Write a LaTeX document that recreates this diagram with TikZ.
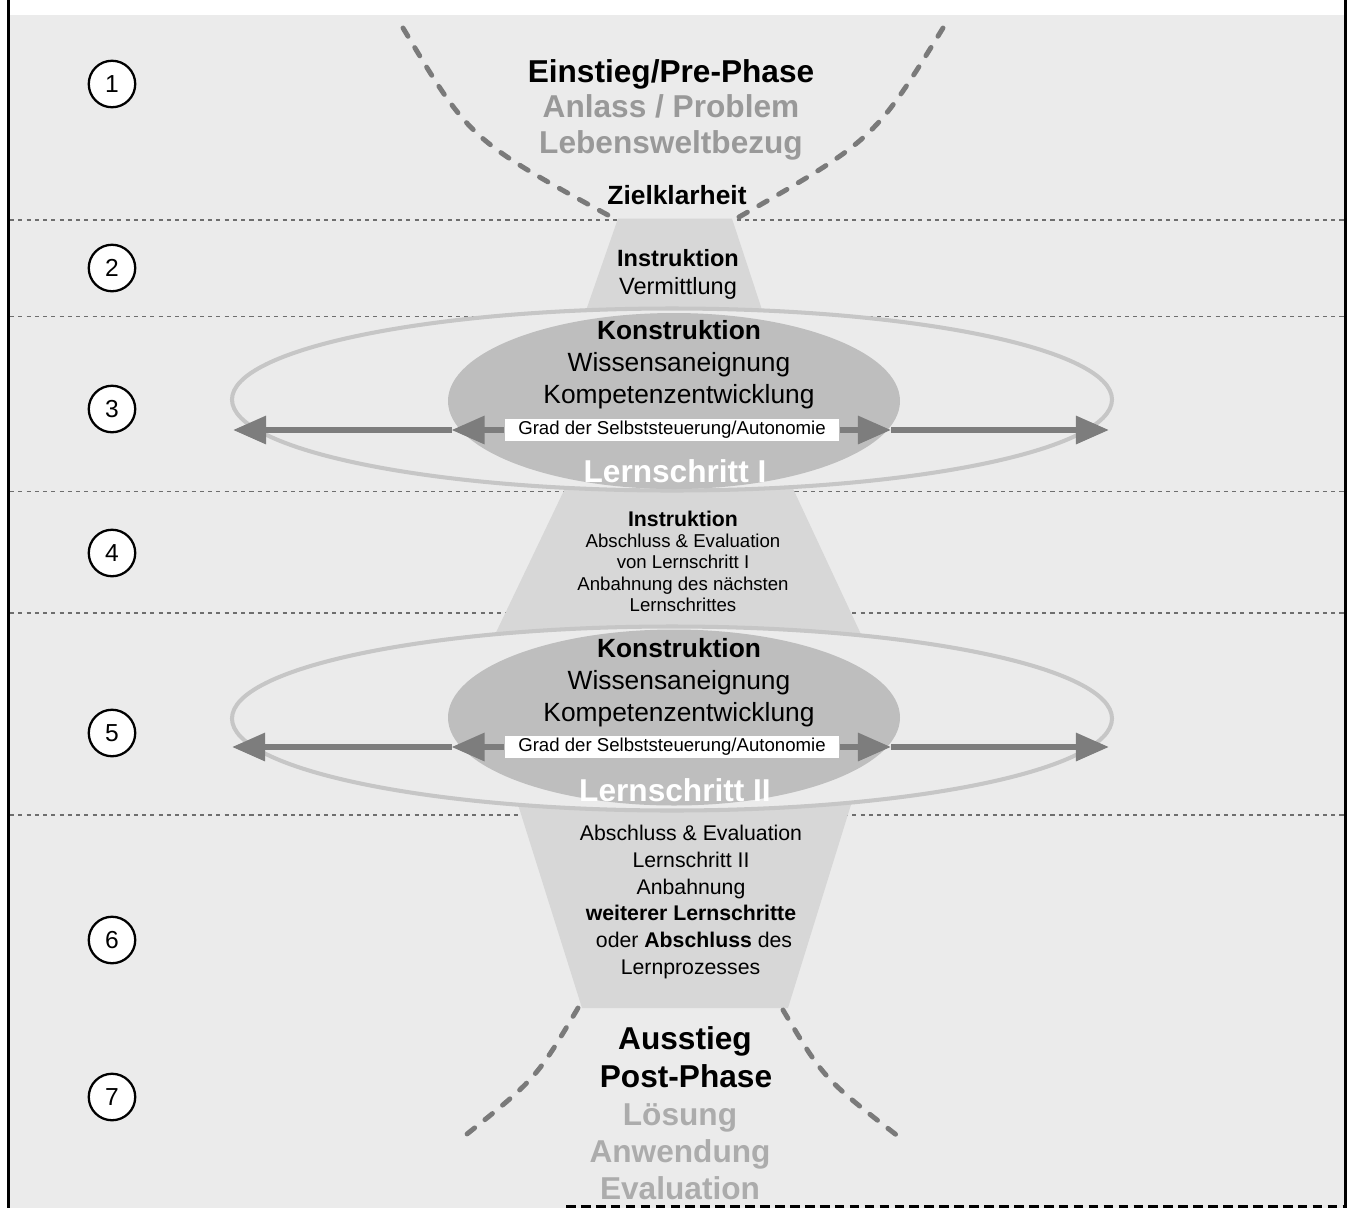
\documentclass[tikz,border=0pt]{standalone}
\usepackage{fontspec}
\setmainfont{Liberation Sans}
\usetikzlibrary{arrows.meta}

\definecolor{phasebg}{RGB}{235,235,235}
\definecolor{funnelfill}{RGB}{215,215,215}
\definecolor{coregray}{RGB}{190,190,190}
\definecolor{ringgray}{RGB}{198,198,198}
\definecolor{arrowgray}{RGB}{125,125,125}
\definecolor{funnelgray}{RGB}{122,122,122}
\definecolor{dotgray}{RGB}{110,110,110}
\definecolor{softtext}{RGB}{153,153,153}
\definecolor{paletext}{RGB}{172,172,172}

\begin{document}
\begin{tikzpicture}[x=0.02cm,y=-0.02cm,
    dotline/.style={draw=dotgray,line width=1.1pt,dash pattern=on 2.3pt off 2.4pt},
    funnel/.style={draw=funnelgray,line width=2.8pt,line cap=round,dash pattern=on 5.5pt off 7.5pt},
    ring/.style={draw=ringgray,line width=2.3pt,fill=phasebg},
    core/.style={fill=coregray},
    autarrow/.style={draw=arrowgray,line width=3.4pt,-{Triangle[length=18.8pt,width=15.4pt]}},
    gradbox/.style={fill=white,inner sep=0pt,minimum width=6.7cm,minimum height=0.44cm,font=\fontsize{10.6}{12}\selectfont},
    numcirc/.style={circle,draw,fill=white,line width=1.3pt,minimum size=0.93cm,inner sep=0pt,font=\fontsize{14}{16}\selectfont},
    txt/.style={anchor=base,inner sep=0pt},
    headbig/.style={txt,font=\fontsize{18}{20}\selectfont\bfseries},
    headmid/.style={txt,font=\fontsize{15}{17}\selectfont\bfseries},
    plainmid/.style={txt,font=\fontsize{15}{17}\selectfont},
    headsmall/.style={txt,font=\fontsize{13.4}{15}\selectfont\bfseries},
    plainsmall/.style={txt,font=\fontsize{13.4}{15}\selectfont},
    boldsix/.style={txt,font=\fontsize{12.1}{14}\selectfont\bfseries},
    plainsix/.style={txt,font=\fontsize{12.1}{14}\selectfont},
    plaintiny/.style={txt,font=\fontsize{10.6}{12}\selectfont}
  ]
  \useasboundingbox (0,0) rectangle (1350,1208);
  \fill[white] (0,0) rectangle (1350,1208);
  \fill[phasebg] (9,15) rectangle (1345,1208);
  \draw[line width=1.8pt] (8.6,0) -- (8.6,1208);
  \draw[line width=2pt] (1345.5,0) -- (1345.5,1208);
  \draw[line width=1.7pt,dash pattern=on 5.5pt off 3pt] (566,1206) -- (1344,1206);

  % section lines
  \draw[dotline] (10,220) -- (1344,220);
  \draw[dotline] (10,316.5) -- (1344,316.5);
  \draw[dotline] (10,491.5) -- (1344,491.5);
  \draw[dotline] (10,613) -- (1344,613);
  \draw[dotline] (10,815) -- (1344,815);

  % funnel body
  \fill[funnelfill] (618,218.5) -- (732,218.5) -- (766,322) -- (582,322) -- cycle;
  \fill[funnelfill] (569,480) -- (789,480) -- (866,645) -- (490,645) -- cycle;
  \fill[funnelfill] (515,795) -- (854,795) -- (788,1008) -- (582,1008) -- cycle;

  % open ends
  \coordinate (topl0) at (403,28);
  \coordinate (topl1) at (617,220);
  \coordinate (topr0) at (943,28);
  \coordinate (topr1) at (732,221);
  \draw[funnel] (topl0) .. controls (470,140) .. (topl1);
  \draw[funnel] (topr0) .. controls (874,140) .. (topr1);
  \coordinate (botl0) at (578,1008);
  \coordinate (botl1) at (457,1142);
  \coordinate (botr0) at (783,1010);
  \coordinate (botr1) at (903,1140);
  \draw[funnel] (botl0) .. controls (536,1079) .. (botl1);
  \draw[funnel] (botr0) .. controls (824,1079) .. (botr1);

  % learning steps
  \draw[ring] (672,399.5) ellipse [x radius=440, y radius=91];
  \fill[core] (674,401) ellipse [x radius=226, y radius=88];
  \draw[ring] (672,718.5) ellipse [x radius=440, y radius=92];
  \fill[core] (674,717.5) ellipse [x radius=226, y radius=88];

  \node[gradbox] (grad1) at (672,430) {Grad der Selbststeuerung/Autonomie};
  \coordinate (mid1l) at (451.5,430);
  \coordinate (tip1l) at (233,430);
  \coordinate (mid1r) at (891,430);
  \coordinate (tip1r) at (1109,430);
  \draw[autarrow] (grad1.west) -- (mid1l);
  \draw[autarrow] (mid1l) -- (tip1l);
  \draw[autarrow] (grad1.east) -- (mid1r);
  \draw[autarrow] (mid1r) -- (tip1r);

  \node[gradbox] (grad2) at (672,747) {Grad der Selbststeuerung/Autonomie};
  \coordinate (mid2l) at (451.5,747);
  \coordinate (tip2l) at (232,747);
  \coordinate (mid2r) at (891,747);
  \coordinate (tip2r) at (1109,747);
  \draw[autarrow] (grad2.west) -- (mid2l);
  \draw[autarrow] (mid2l) -- (tip2l);
  \draw[autarrow] (grad2.east) -- (mid2r);
  \draw[autarrow] (mid2r) -- (tip2r);

  % phase numbers
  \node[numcirc] (num1) at (112,84) {1};
  \node[numcirc] (num2) at (112,268) {2};
  \node[numcirc] (num3) at (112,409) {3};
  \node[numcirc] (num4) at (112,553) {4};
  \node[numcirc] (num5) at (112,733) {5};
  \node[numcirc] (num6) at (112,940) {6};
  \node[numcirc] (num7) at (112,1097) {7};

  % 1
  \node[headbig] (pre1) at (671,82.7) {Einstieg/Pre-Phase};
  \node[headbig,text=softtext] (pre2) at (671,117) {Anlass / Problem};
  \node[headbig,text=softtext] (pre3) at (671,153.5) {Lebensweltbezug};
  \node[headmid] (ziel) at (677,204.5) {Zielklarheit};
  % 2
  \node[headsmall] (ins1) at (678,266.5) {Instruktion};
  \node[plainsmall] (ins2) at (678,294.5) {Vermittlung};
  % 3
  \node[headmid] (kon1) at (679,339) {Konstruktion};
  \node[plainmid] (kon2) at (679,371.5) {Wissensaneignung};
  \node[plainmid] (kon3) at (679,403) {Kompetenzentwicklung};
  \node[headbig,text=white] (ls1) at (675,482.7) {Lernschritt I};
  % 4
  \node[boldsix] (ins3) at (683,526) {Instruktion};
  \node[plaintiny] (zw1) at (683,547.5) {Abschluss \& Evaluation};
  \node[plaintiny] (zw2) at (683,568.7) {von Lernschritt I};
  \node[plaintiny] (zw3) at (683,590) {Anbahnung des nächsten};
  \node[plaintiny] (zw4) at (683,611.5) {Lernschrittes};
  % 5
  \node[headmid] (kon4) at (679,657) {Konstruktion};
  \node[plainmid] (kon5) at (679,689) {Wissensaneignung};
  \node[plainmid] (kon6) at (679,721) {Kompetenzentwicklung};
  \node[headbig,text=white] (ls2) at (675,801) {Lernschritt II};
  % 6
  \node[plainsix] (ab1) at (691,840) {Abschluss \& Evaluation};
  \node[plainsix] (ab2) at (691,867.5) {Lernschritt II};
  \node[plainsix] (ab3) at (691,894) {Anbahnung};
  \node[boldsix] (ab4) at (691,920.5) {weiterer Lernschritte};
  \node[plainsix] (ab5) at (694,947.5) {oder \textbf{Abschluss} des};
  \node[plainsix] (ab6) at (690.5,974.5) {Lernprozesses};
  % 7
  \node[headbig] (post1) at (685,1049.5) {Ausstieg};
  \node[headbig] (post2) at (686,1087.5) {Post-Phase};
  \node[headbig,text=paletext] (post3) at (680,1125.5) {Lösung};
  \node[headbig,text=paletext] (post4) at (680,1162.5) {Anwendung};
  \node[headbig,text=paletext] (post5) at (680,1199.5) {Evaluation};
\end{tikzpicture}
\end{document}
